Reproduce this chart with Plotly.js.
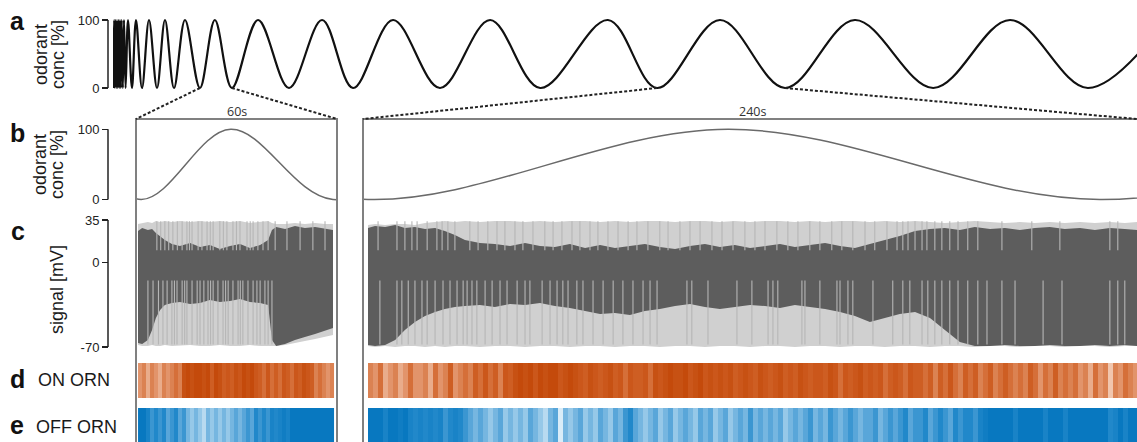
<!DOCTYPE html>
<html><head><meta charset="utf-8">
<script src="https://cdn.plot.ly/plotly-3.0.1.min.js"></script>
<style>html,body{margin:0;padding:0;background:#fff}#chart{width:1137px;height:442px}</style>
</head><body><div id="chart"></div>
<script>
// ---------- DATA ----------
// stimulus (odorant concentration, %) : extrema of the chirp, time in s
const stimT = [0.9,2.3,3.6,4.9,6.2,7.5,8.8,10.1,11.6,13.1,14.6,16.3,18.4,20.6,23.6,28.1,35.6,43.1,54.4,67.5,82.5,97.5,114.4,135,163,191,223,272,330,392,450,525,613,707,801,928,1020,1138,1260,1391,1538,1682,1828,1975];
const stimV = [0,100,0,100,0,100,0,100,0,100,0,100,0,100,0,100,0,100,0,100,0,100,0,100,0,100,0,100,0,100,0,100,0,100,0,100,0,100,0,100,0,100,0,100];
const win60 = [163, 223];
const win240 = [1020, 1260];

// signal (mV), 60 s window
const sigT60 = [162.0,163.3,165.1,166.4,167.6,168.9,170.4,172.6,175.1,178.3,181.4,184.5,187.6,190.8,193.9,197.0,200.2,202.7,203.9,205.2,208.0,211.1,214.2,217.4,220.5,223.0];
const peakEnv60 = [31.7,32.5,33.3,32.5,34.2,33.3,34.2,33.3,34.2,33.3,34.2,33.3,34.2,33.3,34.2,32.5,33.3,34.2,32.5,31.7,31.7,32.5,31.7,32.5,31.7,31.7];
const bandTop60 = [25.9,28.4,26.7,27.6,24.3,21.8,18.5,15.2,13.5,16.0,12.7,14.3,11.0,13.5,15.2,11.8,14.3,18.5,26.7,29.2,27.6,30.0,28.4,29.2,27.6,26.7];
const bandBot60 = [-66.7,-67.5,-64.2,-55.9,-46.0,-39.4,-35.3,-33.6,-32.8,-34.4,-33.6,-31.1,-32.8,-32.0,-30.3,-32.8,-33.6,-35.3,-64.2,-69.2,-67.5,-64.2,-61.7,-59.3,-56.8,-54.3];
const troughEnv60 = [-68.4,-69.2,-69.2,-68.4,-69.2,-69.2,-68.4,-69.2,-69.2,-68.4,-69.2,-69.2,-68.4,-69.2,-69.2,-68.4,-69.2,-69.2,-69.2,-69.2,-68.4,-66.7,-65.0,-63.4,-61.7,-60.0];
const upSpikes60 = [167.9,169.1,170.4,171.6,172.9,174.3,175.8,177.3,178.1,178.9,180.8,182.0,183.6,184.6,185.5,187.6,188.7,189.8,191.7,192.8,193.9,196.1,197.1,198.0,199.5,201.1,202.7,204.9,208.6,212.7,216.7,220.5];
const downSpikes60 = [165.1,166.7,168.4,169.8,171.1,172.6,173.4,174.2,175.8,176.6,177.3,178.9,180.5,181.4,182.6,183.9,184.7,185.5,187.0,188.6,189.4,190.2,191.7,193.3,194.0,194.8,196.4,198.0,199.2,200.2,201.7,202.7,203.9];

// signal (mV), 240 s window
const sigT240 = [1020.0,1022.3,1025.6,1028.9,1032.1,1035.4,1038.7,1042.0,1045.2,1048.5,1051.8,1056.7,1061.6,1066.6,1071.5,1076.4,1081.3,1086.2,1091.2,1096.1,1101.0,1105.9,1110.8,1115.7,1120.7,1125.6,1130.5,1135.4,1140.3,1145.3,1150.2,1155.1,1160.0,1164.9,1169.9,1174.8,1179.7,1184.6,1189.5,1194.4,1199.4,1204.3,1209.2,1214.1,1219.0,1224.0,1228.9,1233.8,1238.7,1243.6,1248.5,1253.5,1258.4,1263.3,1268.2,1272.2];
const peakEnv240 = [30.9,31.7,30.9,31.7,31.7,30.9,32.5,33.3,34.2,33.3,34.2,33.3,34.2,34.2,33.3,34.2,33.3,34.2,34.2,33.3,34.2,33.3,34.2,34.2,33.3,34.2,34.2,33.3,34.2,33.3,34.2,34.2,33.3,34.2,33.3,34.2,34.2,33.3,34.2,33.3,34.2,33.3,32.5,33.3,34.2,33.3,32.5,33.3,32.5,33.3,32.5,33.3,32.5,33.3,32.5,33.3];
const bandTop240 = [28.4,30.0,29.2,30.9,28.4,29.2,27.6,28.4,25.9,22.6,18.5,16.0,15.2,13.5,16.0,13.5,12.7,15.2,11.8,14.3,11.8,13.5,15.2,12.7,11.0,13.5,15.2,12.7,14.3,11.8,13.5,15.2,12.7,14.3,16.0,13.5,11.8,15.2,18.5,21.8,25.9,27.6,28.4,26.7,29.2,27.6,28.4,26.7,28.4,29.2,27.6,28.4,26.7,28.4,27.6,26.7];
const bandBot240 = [-68.4,-69.2,-68.4,-64.2,-55.9,-49.3,-44.4,-41.1,-38.6,-36.9,-36.1,-35.3,-36.9,-34.4,-35.3,-33.6,-36.1,-37.8,-40.2,-42.7,-41.9,-43.5,-40.2,-38.6,-36.1,-34.4,-36.9,-38.6,-36.9,-35.3,-36.1,-37.8,-35.3,-36.9,-38.6,-41.1,-44.4,-49.3,-46.0,-42.7,-41.1,-46.0,-55.9,-65.9,-69.2,-69.2,-68.4,-69.2,-69.2,-68.4,-69.2,-69.2,-68.4,-69.2,-68.4,-69.2];
const troughEnv240 = [-69.2,-70.0,-69.2,-70.0,-69.2,-69.2,-70.0,-69.2,-70.0,-69.2,-69.2,-70.0,-69.2,-69.2,-70.0,-69.2,-69.2,-70.0,-69.2,-69.2,-70.0,-69.2,-69.2,-70.0,-69.2,-69.2,-70.0,-69.2,-69.2,-70.0,-69.2,-69.2,-70.0,-69.2,-69.2,-70.0,-69.2,-69.2,-70.0,-69.2,-69.2,-70.0,-69.2,-69.2,-70.0,-69.2,-69.2,-70.0,-69.2,-69.2,-70.0,-69.2,-69.2,-70.0,-69.2,-69.2];
const upSpikes240 = [1023.3,1029.5,1032.1,1034.4,1036.1,1039.4,1042.6,1044.3,1046.2,1048.5,1053.4,1056.1,1059.3,1062.3,1064.9,1068.2,1070.8,1074.1,1078.0,1080.7,1083.6,1086.9,1089.5,1092.8,1095.4,1098.7,1102.0,1105.3,1108.2,1111.8,1115.7,1118.4,1122.3,1125.6,1128.9,1132.8,1136.1,1139.7,1143.6,1146.9,1150.2,1154.1,1157.7,1161.0,1164.9,1168.2,1172.1,1175.4,1179.0,1183.0,1186.2,1190.2,1193.5,1195.4,1197.1,1199.4,1201.7,1203.3,1205.9,1208.2,1210.8,1213.5,1216.7,1220.0,1227.9,1237.7,1246.9,1263.3,1265.9];
const downSpikes240 = [1023.9,1029.5,1031.1,1033.2,1035.4,1037.7,1039.4,1042.0,1044.6,1046.9,1049.2,1051.2,1052.5,1054.1,1055.7,1058.4,1060.7,1063.3,1065.6,1068.9,1071.5,1073.1,1077.1,1079.7,1082.0,1083.9,1085.6,1088.5,1090.5,1093.8,1097.1,1100.4,1103.6,1106.9,1110.2,1112.5,1114.8,1124.6,1126.2,1131.5,1141.0,1145.9,1151.2,1152.8,1154.4,1162.3,1163.3,1168.2,1173.8,1174.8,1177.4,1179.0,1185.6,1192.1,1195.4,1197.7,1201.7,1203.6,1205.9,1208.2,1210.8,1213.5,1216.7,1220.0,1223.0,1227.9,1232.2,1241.4,1247.6,1263.3,1265.9,1268.2];
const upSpikeRange = [10, 34];
const downSpikeRange = [-68, -15];

// ORN rasters: sparseness per time bin (0 = dense firing, 9 = almost silent)
const rasterStart60 = 162.63, rasterBin60 = 1.251;
const onORN60 = [6,5,7,5,6,7,5,6,5,4, 5,1,0,1,0,0,1,0,3,0, 1,3,2,3,1,2,0,1,0,2, 3,4,2,4,3,4,2,3,4,2, 3,1,2,3,5,4,5,6,5];
const offORN60 = [0,0,2,4,3,4,3,5,4,3, 5,4,6,7,6,7,8,6,7,6, 7,6,7,6,5,6,5,4,5,3, 4,3,4,2,3,2,1,2,0,0, 0,0,0,0,0,0,0,0,0];
const rasterStart240 = 1020.82, rasterBin240 = 1.6395;
const onORN240 = [5,6,4,7,6,5,7,6,4,6, 6,5,7,4,6,5,3,6,5,4, 5,3,4,2,4,3,5,2,3,1, 0,1,0,2,0,1,0,0,2,1, 0,1,2,3,1,2,3,2,1,3, 2,4,2,3,3,2,4,1,2,1, 0,1,1,0,2,1,0,2,1,2, 1,2,1,3,2,1,2,3,1,2, 3,2,1,3,2,3,1,2,3,2, 2,3,1,2,4,2,3,2,1,3, 2,3,2,4,3,2,3,4,2,3, 3,4,3,5,3,4,2,4,5,3, 4,3,5,4,3,5,4,3,4,5, 4,5,3,4,6,4,5,3,5,4, 5,4,6,5,7,4,6,5,8,5, 6,4,5,6];
const offORN240 = [0,0,0,2,0,0,1,0,2,3, 2,3,2,3,2,4,3,2,3,4, 5,6,5,6,7,6,5,7,6,7, 6,7,5,6,7,8,6,5,9,6, 7,6,5,7,6,7,5,6,7,5, 6,4,3,5,6,7,6,5,7,6, 5,7,6,5,6,7,5,6,5,7, 6,5,7,6,5,6,4,6,5,6, 5,6,5,7,6,5,6,5,4,6, 5,6,4,5,6,5,4,5,6,5, 5,4,6,5,4,5,4,3,5,4, 4,3,5,4,3,4,5,3,4,3, 3,4,2,1,0,0,0,0,0,2, 0,0,0,0,0,2,0,0,0,2, 0,0,0,0,0,0,0,0,3,2, 0,2,0,0];

// ---------- LAYOUT HELPERS ----------
const W = 1137, H = 442;
const FONT = 'Liberation Sans, Arial, Helvetica, sans-serif';
const px = p => p / W, py = p => 1 - p / H;
function toPX(ax, v){ return ax.domain[0] + (v - ax.range[0]) / (ax.range[1] - ax.range[0]) * (ax.domain[1] - ax.domain[0]); }
function toPY(ax, v){ return ax.domain[0] + (v - ax.range[0]) / (ax.range[1] - ax.range[0]) * (ax.domain[1] - ax.domain[0]); }

const tickStyle = {anchor:'free', position:px(108), side:'left', ticks:'outside', ticklen:6, tickwidth:1.5,
  tickcolor:'#222', showgrid:false, zeroline:false, showline:false, fixedrange:true,
  tickfont:{family:FONT, size:13, color:'#222'}};

const xaxis  = {domain:[px(113), 1], range:[0, 1920], visible:false, fixedrange:true, anchor:'y'};
const xaxis2 = {domain:[px(136), px(337)], range:[161.37, 224.25], visible:false, fixedrange:true, anchor:'y2'};
const xaxis3 = {domain:[px(363), 1], range:[1018.36, 1272.2], visible:false, fixedrange:true, anchor:'y2'};
const yaxis  = Object.assign({}, tickStyle, {domain:[py(90.72), py(17.28)], range:[-4,104], tickvals:[0,100]});
const yaxis2 = Object.assign({}, tickStyle, {domain:[py(202.31), py(126.49)], range:[-4,104], tickvals:[0,100]});
const yaxis3 = Object.assign({}, tickStyle, {domain:[py(349.42), py(217.58)], range:[-72,37], tickvals:[35,0,-70], ticktext:['35','0','-70']});
const yaxis4 = {domain:[py(398), py(363)], range:[-0.5,0.5], visible:false, fixedrange:true};
const yaxis5 = {domain:[0, py(408)], range:[-0.5,0.5], visible:false, fixedrange:true};

// ---------- TRACES ----------
const traces = [];
const stimLine = (xa, color, width) => ({type:'scatter', mode:'lines', x:stimT, y:stimV, xaxis:xa, yaxis:xa==='x'?'y':'y2',
  line:{color:color, width:width, shape:'spline', smoothing:1}, hoverinfo:'skip'});
traces.push(stimLine('x', '#111', 2.2));
traces.push(stimLine('x2', '#6a6a6a', 1.5));
traces.push(stimLine('x3', '#6a6a6a', 1.5));

function band(xa, t, top, bot, color){
  return {type:'scatter', mode:'lines', xaxis:xa, yaxis:'y3', fill:'toself', fillcolor:color,
    x: t.concat(t.slice().reverse()), y: top.concat(bot.slice().reverse()),
    line:{width:0, color:color}, hoverinfo:'skip'};
}
function spikes(xa, times, range, color){
  const x = [], y = [];
  times.forEach(t => { x.push(t, t, null); y.push(range[1], range[0], null); });
  return {type:'scatter', mode:'lines', xaxis:xa, yaxis:'y3', x:x, y:y, line:{color:color, width:1.1}, hoverinfo:'skip'};
}
traces.push(band('x2', sigT60, peakEnv60, troughEnv60, '#d0d0d0'));
traces.push(band('x2', sigT60, bandTop60, bandBot60, '#5d5d5d'));
traces.push(spikes('x2', upSpikes60, upSpikeRange, '#b6b6b6'));
traces.push(spikes('x2', downSpikes60, downSpikeRange, '#b6b6b6'));
traces.push(band('x3', sigT240, peakEnv240, troughEnv240, '#d0d0d0'));
traces.push(band('x3', sigT240, bandTop240, bandBot240, '#5d5d5d'));
traces.push(spikes('x3', upSpikes240, upSpikeRange, '#b6b6b6'));
traces.push(spikes('x3', downSpikes240, downSpikeRange, '#b6b6b6'));

const onScale = [[0,'#c44a0b'],[0.35,'#cf5f24'],[0.7,'#e49a72'],[1,'#f8e0d1']];
const offScale = [[0,'#0878c0'],[0.35,'#2289cb'],[0.7,'#7fbbe2'],[1,'#d9ecf8']];
function raster(xa, ya, z, x0, dx, cs){
  return {type:'heatmap', xaxis:xa, yaxis:ya, z:[z], x0:x0, dx:dx, y0:0, dy:1,
    colorscale:cs, zmin:0, zmax:9, showscale:false, zsmooth:false, hoverinfo:'skip'};
}
traces.push(raster('x2','y4', onORN60, rasterStart60, rasterBin60, onScale));
traces.push(raster('x2','y5', offORN60, rasterStart60, rasterBin60, offScale));
traces.push(raster('x3','y4', onORN240, rasterStart240, rasterBin240, onScale));
traces.push(raster('x3','y5', offORN240, rasterStart240, rasterBin240, offScale));

// ---------- SHAPES ----------
const frameTop = py(119);
const shapes = [
  {type:'line', xref:'paper', yref:'y',  x0:px(108), x1:px(108), y0:0, y1:100, line:{color:'#222', width:1.5}},
  {type:'line', xref:'paper', yref:'y2', x0:px(108), x1:px(108), y0:0, y1:100, line:{color:'#222', width:1.5}},
  {type:'line', xref:'paper', yref:'y3', x0:px(108), x1:px(108), y0:-70, y1:35, line:{color:'#222', width:1.5}},
  {type:'rect', xref:'paper', yref:'paper', x0:px(136), x1:px(337), y0:-0.1, y1:frameTop, line:{color:'#808080', width:2}, layer:'above'},
  {type:'rect', xref:'paper', yref:'paper', x0:px(363), x1:1.05, y0:-0.1, y1:frameTop, line:{color:'#808080', width:2}, layer:'above'}
];
const dotted = {color:'#222', width:2, dash:'3px,2px'};
[[win60[0], px(136)], [win60[1], px(337)], [win240[0], px(363)], [win240[1], 1.0]].forEach(([t, xe]) => {
  shapes.push({type:'line', xref:'paper', yref:'paper', x0:toPX(xaxis, t), y0:toPY(yaxis, 0), x1:xe, y1:frameTop, line:dotted});
});

// ---------- ANNOTATIONS ----------
function A(text, x, y, o){ return Object.assign({text:text, xref:'paper', yref:'paper', x:px(x), y:py(y), xanchor:'center', yanchor:'middle',
  showarrow:false, font:{family:FONT, size:18, color:'#1a1a1a'}}, o||{}); }
const bold = {font:{family:FONT, size:25, color:'#111', weight:'bold'}};
const rot = {textangle:-90};
const annotations = [
  A('<b>a</b>', 17, 21, bold), A('<b>b</b>', 17, 133, bold), A('<b>c</b>', 18, 231, bold),
  A('<b>d</b>', 17, 379, bold), A('<b>e</b>', 17, 425, bold),
  A('odorant', 41, 55, rot), A('conc [%]', 58, 55, rot),
  A('odorant', 40, 165, rot), A('conc [%]', 57, 165, rot),
  A('signal [mV]', 57, 290, rot),
  A('ON ORN', 74, 380), A('OFF ORN', 76, 427),
  A('60s', 237, 111, {font:{family:'Open Sans, Liberation Sans, sans-serif', size:12.5, color:'#333'}}),
  A('240s', 752, 111, {font:{family:'Open Sans, Liberation Sans, sans-serif', size:12.5, color:'#333'}})
];

const layout = {width:W, height:H, margin:{l:0, r:0, t:0, b:0, pad:0}, paper_bgcolor:'#fff', plot_bgcolor:'rgba(0,0,0,0)',
  showlegend:false, xaxis, xaxis2, xaxis3, yaxis, yaxis2, yaxis3, yaxis4, yaxis5, shapes, annotations};

Plotly.newPlot('chart', traces, layout, {staticPlot:true, displayModeBar:false});
</script></body></html>
